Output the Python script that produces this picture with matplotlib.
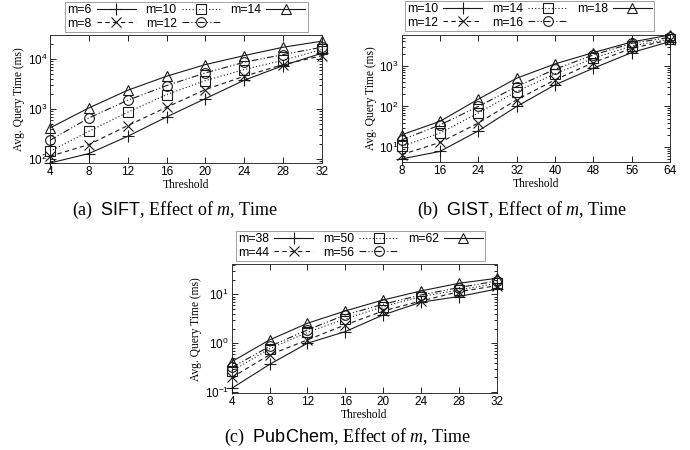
import matplotlib
matplotlib.use("Agg")
import matplotlib.pyplot as plt
from matplotlib.ticker import LogLocator, NullFormatter

plt.rcParams['mathtext.fontset'] = 'custom'
plt.rcParams['mathtext.rm'] = 'Liberation Sans'
plt.rcParams['mathtext.it'] = 'Liberation Serif:italic'
plt.rcParams['mathtext.sf'] = 'Liberation Sans'

# ---------------- data ----------------
sift_x = [4, 8, 12, 16, 20, 24, 28, 32]
sift_labels = ["m=6", "m=8", "m=10", "m=12", "m=14"]
sift_m6 = [83, 128, 284, 690, 1610, 3750, 7360, 13000]
sift_m8 = [113, 194, 464, 1080, 2440, 4500, 7700, 11600]
sift_m10 = [142, 357, 858, 1935, 3690, 6120, 9400, 15400]
sift_m12 = [236, 660, 1490, 2930, 5250, 8580, 12200, 17100]
sift_m14 = [417, 1047, 2360, 4500, 7700, 11650, 17100, 22600]

gist_x = [8, 16, 24, 32, 40, 48, 56, 64]
gist_labels = ["m=10", "m=12", "m=14", "m=16", "m=18"]
gist_m10 = [5.1, 7.8, 25, 100, 341, 877, 2130, 3980]
gist_m12 = [6.5, 13, 39, 146, 453, 1210, 2720, 4360]
gist_m14 = [10.4, 22, 69, 234, 636, 1545, 3100, 4600]
gist_m16 = [15, 35, 100, 310, 828, 1860, 3600, 5070]
gist_m18 = [20, 43, 151, 497, 1120, 2130, 3890, 5780]

pub_x = [4, 8, 12, 16, 20, 24, 28, 32]
pub_labels = ["m=38", "m=44", "m=50", "m=56", "m=62"]
pub_m38 = [0.12, 0.37, 1.0, 1.73, 3.79, 6.9, 9.0, 12.8]
pub_m44 = [0.2, 0.58, 1.17, 2.37, 4.57, 7.3, 11.3, 15]
pub_m50 = [0.27, 0.77, 1.67, 3.14, 5.6, 9.0, 12.2, 16.8]
pub_m56 = [0.32, 0.86, 1.87, 3.8, 6.25, 9.7, 13.7, 18.7]
pub_m62 = [0.42, 1.17, 2.56, 4.57, 7.66, 11.7, 16.8, 21.2]

# ---------------- styles ----------------
styles = [
    dict(marker='+', linestyle='-', markersize=8),
    dict(marker='x', linestyle=(0, (4, 3)), markersize=7),
    dict(marker='s', linestyle=(0, (1, 2)), markersize=7),
    dict(marker='o', linestyle=(0, (6, 2, 1, 2, 1, 2)), markersize=7),
    dict(marker='^', linestyle='-', markersize=7),
]
col = '#1a1a1a'
serif = 'Liberation Serif'
sans = 'Liberation Sans'

fig = plt.figure(figsize=(6.9, 4.5), dpi=100)


def panel(rect, xs, series, labels, ylim, xticks, legend_center, caption, cap_pos):
    ax = fig.add_axes(rect)
    handles = []
    for ys, lab, st in zip(series, labels, styles):
        h, = ax.plot(xs, ys, color=col, linewidth=0.8, markerfacecolor='none',
                     markeredgecolor=col, markeredgewidth=0.8, label=lab,
                     linestyle=st['linestyle'], marker=st['marker'],
                     markersize=st['markersize'], clip_on=False, zorder=3)
        handles.append(h)
    ax.set_yscale('log')
    ax.set_xlim(xs[0], xs[-1])
    ax.set_ylim(*ylim)
    ax.set_xticks(xticks)
    ax.set_xticklabels([str(t) for t in xticks], fontfamily=sans, fontsize=8.5)
    ax.yaxis.set_major_locator(LogLocator(base=10))
    ax.yaxis.set_minor_locator(LogLocator(base=10, subs=range(2, 10)))
    ax.yaxis.set_minor_formatter(NullFormatter())
    ax.tick_params(which='both', direction='in', top=True, right=True, width=0.6,
                   pad=2)
    ax.tick_params(which='major', length=4, labelsize=8.5)
    ax.tick_params(which='minor', length=2)
    for lbl in ax.get_yticklabels():
        lbl.set_fontfamily(sans)
    for s in ax.spines.values():
        s.set_linewidth(0.7)
        s.set_color('#333333')
    ax.set_xlabel('Threshold', fontfamily=serif, fontsize=8.3, labelpad=1)
    ax.set_ylabel('Avg. Query Time (ms)', fontfamily=serif, fontsize=8.3, labelpad=2)
    leg = fig.legend(handles=handles, loc='center', bbox_to_anchor=legend_center,
                     ncol=3, markerfirst=False, frameon=True, fancybox=False,
                     prop={'family': sans, 'size': 8.8}, handlelength=3.2,
                     columnspacing=0.8, handletextpad=0.4, labelspacing=0.1,
                     borderpad=0.2, borderaxespad=0)
    leg.get_frame().set_edgecolor('#888888')
    leg.get_frame().set_linewidth(0.7)
    fig.text(cap_pos[0], cap_pos[1], caption, ha='center', va='center',
             fontfamily=serif, fontsize=13)
    return ax


panel([0.0725, 0.6378, 0.3942, 0.2844], sift_x,
      [sift_m6, sift_m8, sift_m10, sift_m12, sift_m14], sift_labels,
      (83, 30000), sift_x, (0.2703, 0.962),
      r"(a)  $\mathsf{SIFT}$, Effect of $m$, Time", (0.2536, 0.533))

panel([0.582, 0.64, 0.389, 0.2822], gist_x,
      [gist_m10, gist_m12, gist_m14, gist_m16, gist_m18], gist_labels,
      (4.28, 5780), gist_x, (0.7674, 0.9644),
      r"(b)  $\mathsf{GIST}$, Effect of $m$, Time", (0.7565, 0.533))

panel([0.3358, 0.126, 0.3841, 0.2867], pub_x,
      [pub_m38, pub_m44, pub_m50, pub_m56, pub_m62], pub_labels,
      (0.095, 41), pub_x, (0.5225, 0.4533),
      r"(c)  $\mathsf{PubChem}$, Effect of $m$, Time", (0.504, 0.029))

fig.savefig('out.png', dpi=100)
